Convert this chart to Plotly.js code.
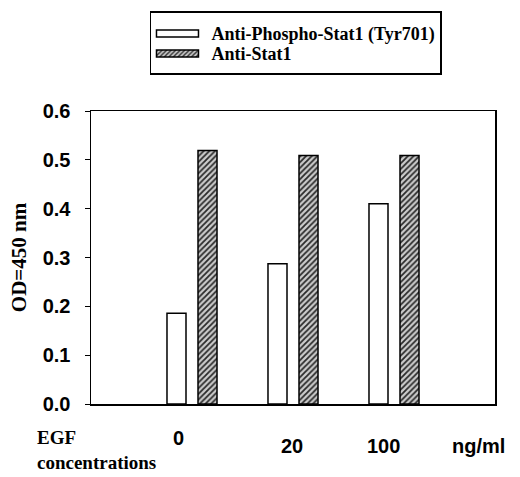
<!DOCTYPE html>
<html>
<head>
<meta charset="utf-8">
<script src="https://cdn.plot.ly/plotly-3.0.1.min.js"></script>
<style>html,body{margin:0;padding:0;background:#fff;}#chart{width:520px;height:477px;}</style>
</head>
<body>
<div id="chart"></div>
<script>
// Data
var categories = ['0', '20', '100'];
var phosphoStat1 = [0.186, 0.287, 0.410];
var totalStat1 = [0.519, 0.509, 0.509];
var seriesNames = ['Anti-Phospho-Stat1 (Tyr701)', 'Anti-Stat1'];
var unitLabel = 'ng/ml';
var xTitleLines = ['EGF', 'concentrations'];
var yTitle = 'OD=450 nm';

var traces = [
  {
    type: 'bar', name: seriesNames[0], x: categories, y: phosphoStat1,
    marker: {color: '#ffffff', line: {color: '#000000', width: 1.5}},
    hoverinfo: 'none'
  },
  {
    type: 'bar', name: seriesNames[1], x: categories, y: totalStat1,
    marker: {color: '#bdbdbd', line: {color: '#000000', width: 1.5},
      pattern: {shape: '/', bgcolor: '#cccccc', fgcolor: '#2a2a2a', size: 4, solidity: 0.45, fillmode: 'replace'}},
    hoverinfo: 'none'
  }
];

var sansFam = 'Arial, "Liberation Sans", sans-serif';
var serifFam = '"Liberation Serif", "Times New Roman", serif';
var numFont = {family: sansFam, size: 20, color: '#000', weight: 'bold'};
var serifBold = {family: serifFam, size: 19, color: '#000', weight: 'bold'};
var legendFont = {family: serifFam, size: 18, color: '#000', weight: 'bold'};

var annotations = [];
var labelShift = [-14, -1, -11];
var labelY = [-0.115, -0.145, -0.145];
categories.forEach(function (c, i) {
  annotations.push({xref: 'x', yref: 'paper', x: i, y: labelY[i], yanchor: 'middle', xanchor: 'center',
    xshift: labelShift[i], text: c, showarrow: false, font: numFont});
});
annotations.push({xref: 'paper', yref: 'paper', x: 0.96, y: -0.145, xanchor: 'center', yanchor: 'middle',
  text: unitLabel, showarrow: false, font: numFont});
annotations.push({xref: 'paper', yref: 'paper', x: -0.1386, y: -0.115, xanchor: 'left', yanchor: 'middle',
  text: xTitleLines[0], showarrow: false, font: serifBold});
annotations.push({xref: 'paper', yref: 'paper', x: -0.1386, y: -0.198, xanchor: 'left', yanchor: 'middle',
  text: xTitleLines[1], showarrow: false, font: serifBold});

var layout = {
  width: 520, height: 477,
  margin: {l: 91, r: 25, t: 107, b: 73},
  paper_bgcolor: '#ffffff', plot_bgcolor: '#ffffff',
  barmode: 'group', bargap: 0.386, bargroupgap: 0.387,
  showlegend: true,
  legend: {
    x: 0.146, y: 1.34, xanchor: 'left', yanchor: 'top',
    bordercolor: '#000', borderwidth: 1.5, bgcolor: '#fff',
    font: legendFont,
    itemwidth: 50, tracegroupgap: 0
  },
  xaxis: {
    type: 'category', range: [-1, 3], showticklabels: false, ticks: '',
    showline: true, linecolor: '#000', linewidth: 1.5, mirror: true,
    showgrid: false, zeroline: false, fixedrange: true
  },
  yaxis: {
    range: [0, 0.6], dtick: 0.1, tickformat: '.1f', ticks: 'outside', ticklen: 5,
    tickwidth: 1, tickcolor: '#000', ticklabelstandoff: 10,
    showline: true, linecolor: '#000', linewidth: 1.5, mirror: true,
    showgrid: false, zeroline: false, fixedrange: true,
    tickfont: numFont,
    title: {text: yTitle, font: {family: serifFam, size: 21, color: '#000', weight: 'bold'}, standoff: 10}
  },
  annotations: annotations
};

Plotly.newPlot('chart', traces, layout, {displayModeBar: false, staticPlot: true}).then(function () {
  // flat, wide legend swatches as in the reference
  document.querySelectorAll('.legend .legendpoints path').forEach(function (p) {
    p.setAttribute('d', 'M-25,-3.5H17V3.5H-25Z');
  });
  // tighter row spacing in the legend box
  var items = document.querySelectorAll('.legend .traces');
  var rowY = [22, 42];
  items.forEach(function (g, i) {
    var m = /translate\(([-\d.]+)[ ,]+([-\d.]+)\)/.exec(g.getAttribute('transform') || '');
    var x = m ? parseFloat(m[1]) : 0;
    g.setAttribute('transform', 'translate(' + x + ',' + rowY[i] + ')');
  });
  var bg = document.querySelector('.legend rect.bg');
  if (bg) bg.setAttribute('height', 62);
});
</script>
</body>
</html>
